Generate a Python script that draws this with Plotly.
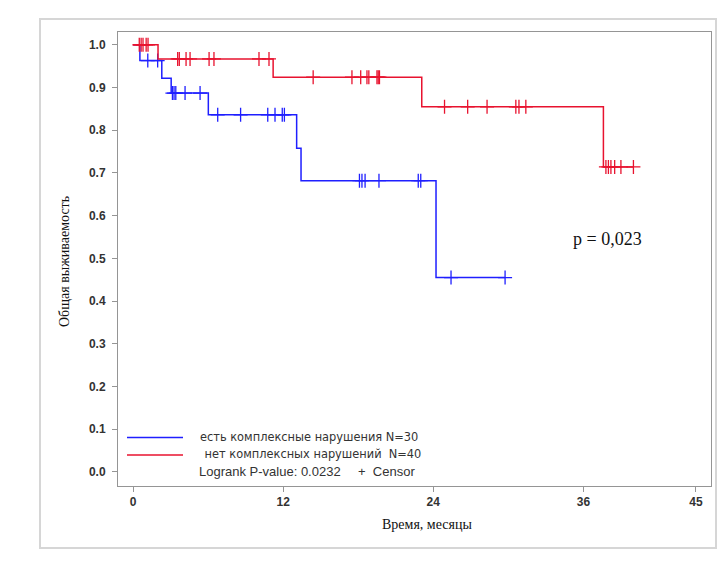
import plotly.graph_objects as go

# ---- data ----
blue_name = "есть комплексные нарушения N=30"
red_name = " нет комплексных нарушений  N=40"

blue_time = [0, 0.55, 2.3, 3.05, 6.02, 13.08, 13.43, 24.22, 29.74]
blue_surv = [1.0, 0.963, 0.922, 0.887, 0.836, 0.758, 0.682, 0.455, 0.455]
blue_cens_time = [1.18, 1.97,
                  3.15, 3.28, 3.42, 4.16, 5.36,
                  6.77, 8.6, 10.77, 11.35, 11.93, 12.1,
                  18.1, 18.3, 18.55, 19.66, 22.8, 23.0,
                  25.42, 29.74]
blue_cens_surv = [0.963, 0.963,
                  0.887, 0.887, 0.887, 0.887, 0.887,
                  0.836, 0.836, 0.836, 0.836, 0.836, 0.836,
                  0.682, 0.682, 0.682, 0.682, 0.682, 0.682,
                  0.455, 0.455]

red_time = [0, 2.0, 11.2, 23.08, 37.6, 40.0]
red_surv = [1.0, 0.967, 0.924, 0.855, 0.714, 0.714]
red_cens_time = [0.5, 0.65, 0.8, 1.05, 1.2,
                 3.57, 3.7, 4.24, 4.56, 6.08, 6.47, 10.07, 10.87,
                 14.4, 17.5, 18.2, 18.7, 18.85, 19.5, 19.6, 19.7,
                 24.9, 26.75, 28.3, 30.6, 30.85, 31.4,
                 37.8, 38.0, 38.2, 38.5, 39.0, 40.0]
red_cens_surv = [1.0] * 5 + [0.967] * 8 + [0.924] * 8 + [0.855] * 6 + [0.714] * 6

x_ticks = [0, 12, 24, 36, 45]
y_ticks = [0.0, 0.1, 0.2, 0.3, 0.4, 0.5, 0.6, 0.7, 0.8, 0.9, 1.0]

p_text = "p = 0,023"
p_pos = (37.9, 0.545)
logrank_text = "Logrank P-value: 0.0232"
censor_text = "+\u00a0\u00a0Censor"
x_title = "Время, месяцы"
y_title = "Общая выживаемость"

BLUE = "#1f1fff"
RED = "#e8132f"

fig = go.Figure()

for t, s, ct, cs, col in [(blue_time, blue_surv, blue_cens_time, blue_cens_surv, BLUE),
                          (red_time, red_surv, red_cens_time, red_cens_surv, RED)]:
    fig.add_trace(go.Scatter(x=t, y=s, mode="lines", line=dict(color=col, width=1.5, shape="hv"),
                             showlegend=False, hoverinfo="skip"))
    fig.add_trace(go.Scatter(x=ct, y=cs, mode="markers",
                             marker=dict(symbol="cross-thin", size=10, color=col,
                                         line=dict(color=col, width=1.3)),
                             showlegend=False, hoverinfo="skip"))

axis_common = dict(showline=True, linecolor="#959595", linewidth=1, mirror=True,
                   ticks="outside", ticklen=5, tickcolor="#959595", showgrid=False,
                   zeroline=False,
                   tickfont=dict(family="Liberation Sans, Arial, sans-serif", size=12,
                                 color="#333333", weight="bold"))

fig.update_xaxes(range=[-1.2, 46.2], tickvals=x_ticks, ticktext=[str(v) for v in x_ticks],
                 **axis_common)
fig.update_yaxes(range=[-0.033, 1.03], tickvals=y_ticks,
                 ticktext=["%.1f" % v for v in y_ticks], ticklabelstandoff=4, **axis_common)

# page pixel -> paper coordinate (plot area spans x 118..711, y 32..486 on the page)
def px_x(p):
    return (p - 118) / 593.0

def px_y(p):
    return (486 - p) / 454.0

shapes = [
    # outer frame
    dict(type="rect", xref="paper", yref="paper", x0=px_x(40), x1=px_x(716),
         y0=px_y(548), y1=px_y(19), line=dict(color="#d6d6d6", width=2), layer="below"),
    # legend lines
    dict(type="line", xref="paper", yref="paper", x0=px_x(127), x1=px_x(183),
         y0=px_y(437.5), y1=px_y(437.5), line=dict(color=BLUE, width=1.5)),
    dict(type="line", xref="paper", yref="paper", x0=px_x(127), x1=px_x(183),
         y0=px_y(455), y1=px_y(455), line=dict(color=RED, width=1.5)),
]

cyr_font = dict(family="DejaVu Sans, Liberation Sans, sans-serif", size=11.4, color="#333333")
leg_font = dict(family="Liberation Sans, Arial, sans-serif", size=13, color="#333333")
serif = "Liberation Serif, Times New Roman, serif"


def ann(x, y, text, font, xanchor="left", **kw):
    return dict(xref="paper", yref="paper", x=x, y=y, text=text, showarrow=False,
                xanchor=xanchor, yanchor="middle", font=font, **kw)


annotations = [
    ann(px_x(198), px_y(436.7), blue_name, cyr_font),
    ann(px_x(199), px_y(453.5), red_name.replace(" ", "\u00a0"), cyr_font),
    ann(px_x(197), px_y(471.5), logrank_text, leg_font),
    ann(px_x(356), px_y(471.5), censor_text, leg_font),
    ann(px_x(427.5), px_y(524), x_title, dict(family=serif, size=14, color="#111111"),
        xanchor="center"),
    ann(px_x(65), px_y(262), y_title, dict(family=serif, size=14, color="#111111"),
        xanchor="center", textangle=-90),
    dict(xref="x", yref="y", x=p_pos[0], y=p_pos[1], text=p_text, showarrow=False,
         xanchor="center", yanchor="middle",
         font=dict(family=serif, size=18, color="#111111")),
]

# the page body has an 8px margin, so the figure is 720x552 and starts at (8, 8)
fig.update_layout(width=720, height=552, margin=dict(l=110, r=17, t=24, b=74),
                  paper_bgcolor="white", plot_bgcolor="white",
                  shapes=shapes, annotations=annotations, showlegend=False)

fig.write_html("out.html")
